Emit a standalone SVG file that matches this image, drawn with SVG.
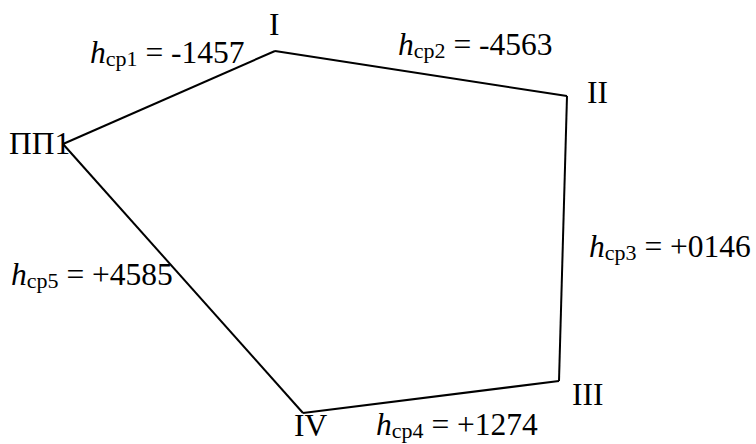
<svg xmlns="http://www.w3.org/2000/svg" width="756" height="444" viewBox="0 0 756 444">
<style>
text{font-family:"Liberation Serif","Times New Roman",serif;font-size:31.5px;fill:#000}
.i{font-style:italic}
.s{font-size:22px}
.e{fill:none;stroke:#000;stroke-width:2;stroke-linejoin:miter}
</style>
<rect width="756" height="444" fill="#fff"/>
<g id="connectors">
<path class="e" d="M63,144 L275,51"/>
<path class="e" d="M275,51 L567,96"/>
<path class="e" d="M567,96 L559,381"/>
<path class="e" d="M559,381 L303,413"/>
<path class="e" d="M303,413 L63,144"/>
</g>
<g id="node-I"><text x="269" y="35">I</text></g>
<g id="node-II"><text x="587" y="103">II</text></g>
<g id="node-III"><text x="572" y="405">III</text></g>
<g id="node-IV"><text x="294" y="436">IV</text></g>
<g id="node-PP1"><text x="9" y="154">ПП1</text></g>
<g id="label-1"><text x="90" y="63"><tspan class="i">h</tspan><tspan class="s" dy="3">cp1</tspan><tspan dy="-3"> = -1457</tspan></text></g>
<g id="label-2"><text x="398" y="55"><tspan class="i">h</tspan><tspan class="s" dy="3">cp2</tspan><tspan dy="-3"> = -4563</tspan></text></g>
<g id="label-3"><text x="589" y="257"><tspan class="i">h</tspan><tspan class="s" dy="3">cp3</tspan><tspan dy="-3"> = +0146</tspan></text></g>
<g id="label-4"><text x="376" y="435"><tspan class="i">h</tspan><tspan class="s" dy="3">cp4</tspan><tspan dy="-3"> = +1274</tspan></text></g>
<g id="label-5"><text x="11" y="285"><tspan class="i">h</tspan><tspan class="s" dy="3">cp5</tspan><tspan dy="-3"> = +4585</tspan></text></g>
</svg>
